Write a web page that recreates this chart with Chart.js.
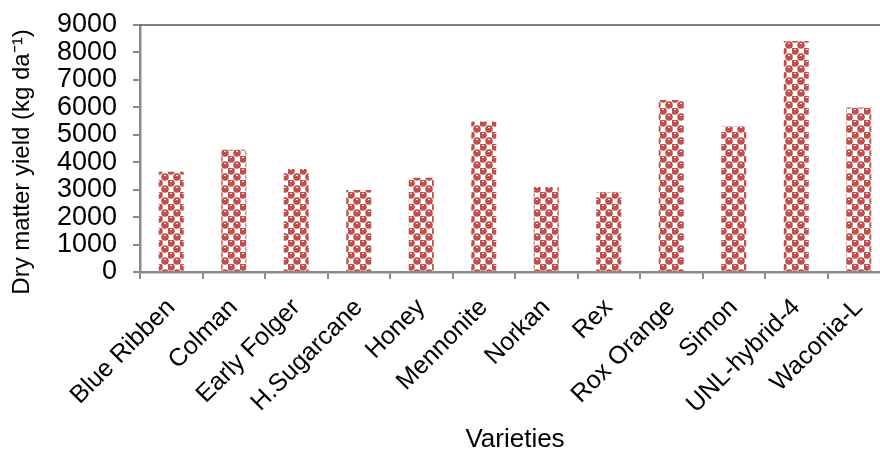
<!DOCTYPE html>
<html>
<head>
<meta charset="utf-8">
<script src="https://cdn.jsdelivr.net/npm/chart.js@4.4.1/dist/chart.umd.min.js"></script>
<style>
    html, body { margin: 0; padding: 0; background: #fff; overflow: hidden; }
    #wrap { width: 900px; height: 457px; }
</style>
</head>
<body>
<div id="wrap"><canvas id="barChart" width="900" height="457"></canvas></div>
<script>
var varieties = ['Blue Ribben', 'Colman', 'Early Folger', 'H.Sugarcane', 'Honey', 'Mennonite',
    'Norkan', 'Rex', 'Rox Orange', 'Simon', 'UNL-hybrid-4', 'Waconia-L'];
var yieldValues = [3650, 4450, 3750, 2990, 3430, 5480, 3100, 2910, 6270, 5300, 8420, 5990];
var yTicks = [0, 1000, 2000, 3000, 4000, 5000, 6000, 7000, 8000, 9000];
var yTitle = 'Dry matter yield (kg da\u207B\u00B9)';

// red "sphere" fill like the office pattern
function makePattern() {
    var c = document.createElement('canvas');
    c.width = 12;
    c.height = 12;
    var g = c.getContext('2d');
    g.fillStyle = '#ffffff';
    g.fillRect(0, 0, 12, 12);
    g.fillStyle = '#C0504D';
    [[3, 3], [9, 9], [9, -3], [-3, 9], [15, 9], [9, 15], [15, -3], [-3, 15]].forEach(function(p) {
        g.beginPath();
        g.arc(p[0], p[1], 3.8, 0, Math.PI * 2);
        g.fill();
    });
    g.fillStyle = 'rgba(255,255,255,0.9)';
    g.fillRect(2, 1, 2, 1);
    g.fillRect(8, 7, 2, 1);
    return g.createPattern(c, 'repeat');
}

// top border + the y title (sits a bit lower than the axis middle)
var frame = {
    id: 'frame',
    afterDraw: function(chart) {
        var a = chart.chartArea;
        var ctx = chart.ctx;
        ctx.save();
        ctx.strokeStyle = '#595959';
        ctx.lineWidth = 1.5;
        ctx.beginPath();
        ctx.moveTo(a.left, a.top);
        ctx.lineTo(a.right, a.top);
        ctx.stroke();

        ctx.translate(22, 162);
        ctx.rotate(-Math.PI / 2);
        ctx.fillStyle = '#000';
        ctx.font = '24px "Liberation Sans"';
        ctx.textAlign = 'center';
        ctx.textBaseline = 'middle';
        ctx.fillText(yTitle, 0, 0);
        ctx.restore();
    }
};

var ctx = document.getElementById('barChart').getContext('2d');
var barChart = new Chart(ctx, {
    type: 'bar',
    data: {
        labels: varieties,
        datasets: [{
            label: 'Dry matter yield',
            data: yieldValues,
            backgroundColor: makePattern(),
            borderWidth: 0,
            categoryPercentage: 1,
            barPercentage: 0.4
        }]
    },
    options: {
        responsive: false,
        animation: false,
        devicePixelRatio: 1,
        layout: {
            padding: { top: 0, right: 10, left: 0, bottom: 0 }
        },
        scales: {
            x: {
                grid: {
                    drawOnChartArea: false,
                    drawTicks: true,
                    tickLength: 7,
                    color: '#8a8a8a',
                    lineWidth: 2
                },
                border: { color: '#8a8a8a', width: 2.5 },
                ticks: {
                    color: '#000',
                    font: { family: 'Liberation Sans', size: 25 },
                    minRotation: 45,
                    maxRotation: 45,
                    autoSkip: false,
                    padding: 14
                },
                title: {
                    display: true,
                    text: 'Varieties',
                    color: '#000',
                    font: { family: 'Liberation Sans', size: 26 },
                    padding: { top: 0, bottom: 2 }
                },
                afterFit: function(scale) { scale.height = 185; }
            },
            y: {
                min: 0,
                max: 9000,
                afterBuildTicks: function(scale) {
                    scale.ticks = yTicks.map(function(v) { return { value: v }; });
                },
                grid: {
                    drawOnChartArea: false,
                    drawTicks: true,
                    tickLength: 7,
                    color: '#8a8a8a',
                    lineWidth: 2
                },
                border: { color: '#8a8a8a', width: 2.5 },
                ticks: {
                    color: '#000',
                    font: { family: 'Liberation Sans', size: 27 },
                    padding: 16,
                    autoSkip: false,
                    callback: function(v) { return String(v); }
                },
                afterFit: function(scale) {
                    scale.width = 140;
                    scale.paddingTop = 25;
                }
            }
        },
        plugins: {
            legend: { display: false },
            tooltip: { enabled: false }
        }
    },
    plugins: [frame]
});
</script>
</body>
</html>
